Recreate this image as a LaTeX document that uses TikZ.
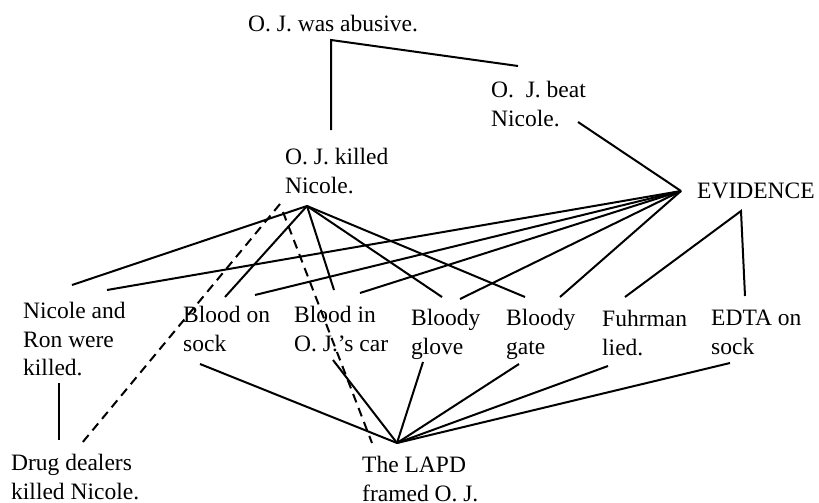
\documentclass[tikz,border=0pt]{standalone}
\usepackage{fontspec}
\setmainfont{Liberation Serif}
\begin{document}
\begin{tikzpicture}[x=1pt,y=-1pt,
  lbl/.style={anchor=north west, inner sep=0pt, align=left, font=\fontsize{23.5}{28.5}\selectfont},
  link/.style={line width=2pt, line join=miter},
  dlink/.style={line width=2pt, dash pattern=on 9pt off 6pt}]
\useasboundingbox[fill=white] (0,0) rectangle (819,503);
% text nodes
\node[lbl] (abusive) at (248,15) {O. J. was abusive.};
\node[lbl] (beat) at (491,81) {O.\ \ J. beat\\Nicole.};
\node[lbl] (killed) at (285,148) {O. J. killed\\Nicole.};
\node[lbl] (evidence) at (697,183) {EVIDENCE};
\node[lbl] (ron) at (23,302) {Nicole and\\Ron were\\killed.};
\node[lbl] (sock) at (183,306) {Blood on\\sock};
\node[lbl] (car) at (294,306) {Blood in\\O. J.'s car};
\node[lbl] (glove) at (411,309) {Bloody\\glove};
\node[lbl] (gate) at (506,309) {Bloody\\gate};
\node[lbl] (fuhrman) at (602,310) {Fuhrman\\lied.};
\node[lbl] (edta) at (711,310) {EDTA on\\sock};
\node[lbl] (drug) at (11,454) {Drug dealers\\killed Nicole.};
\node[lbl] (lapd) at (362,456) {The LAPD\\framed O. J.};
% connector points
\coordinate (abC) at (331,40);
\coordinate (abK) at (331,130);
\coordinate (abB) at (518,66);
\coordinate (beatE) at (578,122);
\coordinate (ev1) at (681,191);
\coordinate (ev2) at (741,211);
\coordinate (kil) at (307,206);
\coordinate (lap) at (397,443);
\coordinate (ronT1) at (72,285);
\coordinate (ronT2) at (107,290);
\coordinate (sockT1) at (225,297);
\coordinate (sockT2) at (255,295);
\coordinate (carT1) at (334,290);
\coordinate (carT2) at (360,293);
\coordinate (gloveT1) at (442,297);
\coordinate (gloveT2) at (460,299);
\coordinate (gateT1) at (525,297);
\coordinate (gateT2) at (560,297);
\coordinate (fuhT) at (625,297);
\coordinate (edtaT) at (745,296);
\coordinate (ronB) at (59,383);
\coordinate (drugT) at (59,440);
\coordinate (dd1) at (280,204);
\coordinate (dd2) at (82,443);
\coordinate (lp1) at (283,212);
\coordinate (lp2) at (372,443);
\coordinate (sockB) at (200,364);
\coordinate (carB) at (333,360);
\coordinate (gloveB) at (423,362);
\coordinate (gateB) at (519,364);
\coordinate (fuhB) at (608,366);
\coordinate (edtaB) at (730,363);
% connectors
\draw[link] (abK) -- (abC) -- (abB);
\draw[link] (beatE) -- (ev1);
\foreach \t in {ronT2,sockT2,carT2,gloveT2,gateT2} \draw[link] (ev1) -- (\t);
\foreach \t in {ronT1,sockT1,carT1,gloveT1,gateT1} \draw[link] (kil) -- (\t);
\draw[link] (fuhT) -- (ev2) -- (edtaT);
\draw[link] (ronB) -- (drugT);
\foreach \t in {sockB,carB,gloveB,gateB,fuhB,edtaB} \draw[link] (lap) -- (\t);
\draw[dlink] (dd1) -- (dd2);
\draw[dlink] (lp1) -- (lp2);
\end{tikzpicture}
\end{document}
